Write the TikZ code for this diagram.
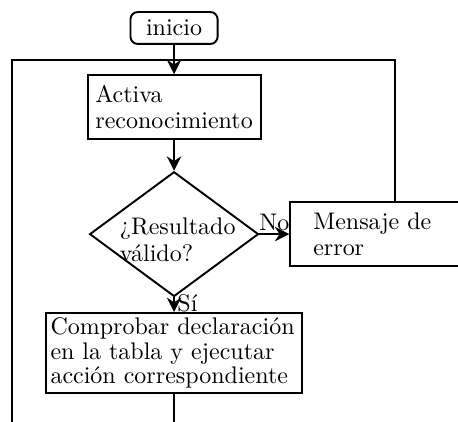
\documentclass[tikz,border=0pt]{standalone}
\usetikzlibrary{shapes.geometric, arrows.meta}
\tikzset{
	caja/.style={draw, thick, rectangle, align=left, inner sep=2pt, font=\linespread{0.92}\selectfont},
	inicial/.style={draw, thick, rectangle, rounded corners=3pt, inner sep=2pt},
	decision/.style={draw, thick, diamond, inner sep=0pt, minimum width=70.4pt, minimum height=52pt, font=\linespread{0.92}\selectfont},
	flecha/.style={thick, -{Stealth[length=6pt, width=6pt]}},
	linea/.style={thick}
}
\newcommand{\textorombo}[1]{\makebox[0pt]{\raisebox{-6pt}[0pt][0pt]{\hspace{3pt}\begin{tabular}{@{}l@{}}#1\end{tabular}}}}
\begin{document}
\begin{tikzpicture}
			\clip (0,0) rectangle (6.71,-6.17);
			\node[inicial, minimum width=36.3pt, minimum height=13.3pt] (inicio) at (2.55,-0.41) {inicio};
			\node[caja, minimum width=72.1pt, minimum height=26.7pt] (activa) at (2.55,-1.57) {Activa\\reconocimiento};
			\node[decision] (valido) at (2.55,-3.43) {\textorombo{¿Resultado\\válido?}};
			\node[caja, text width=68.3pt, inner xsep=9.6pt, minimum height=26.7pt] (mensaje) at (5.79,-3.43) {Mensaje de\\error};
			\node[caja, text width=103pt, inner xsep=2pt, minimum height=33.3pt, font=\linespread{0.84}\selectfont] (comprobar) at (2.55,-5.17) {Comprobar declaración\\en la tabla y ejecutar\\acción correspondiente};
			\coordinate (retorno) at (0.18,-6.5);
			\coordinate (fin) at (2.55,-6.5);
			\draw[flecha] (inicio) -- (activa);
			\draw[flecha] (activa) -- (valido);
			\draw[flecha] (valido) -- node[above, inner sep=1pt] {No} (mensaje);
			\draw[flecha] (valido) -- node[anchor=west, inner sep=1pt, pos=0.4] {Sí} (comprobar);
			\draw[linea] (mensaje.north) |- (0.18,-0.88) -- (retorno);
			\draw[linea] (comprobar) -- (fin);
			\end{tikzpicture}
\end{document}
